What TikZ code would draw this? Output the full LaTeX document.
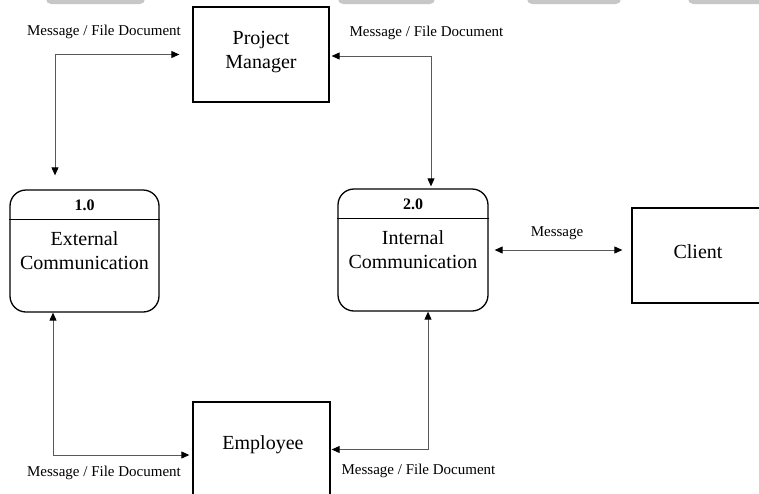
\documentclass[tikz,border=0pt]{standalone}
\usepackage{fontspec}
\setmainfont{Liberation Serif}
\usetikzlibrary{arrows.meta}
\begin{document}
\begin{tikzpicture}[x=1pt,y=-1pt,
  entity/.style={draw=black,line width=1.3pt,rectangle,inner sep=0pt},
  process/.style={draw=black,line width=1.3pt,rectangle,rounded corners=16pt,inner sep=0pt},
  bodytext/.style={font=\fontsize{20}{24}\selectfont,align=center,inner sep=0pt},
  idtext/.style={font=\fontsize{16}{18}\selectfont\bfseries,inner sep=0pt},
  flowlabel/.style={font=\fontsize{15}{17}\selectfont,inner sep=0pt},
  flow/.style={draw=black!65,line width=0.9pt,{Triangle[length=8pt,width=7pt,color=black]}-{Triangle[length=8pt,width=7pt,color=black]}}]
\useasboundingbox (0,0) rectangle (759,493);
\clip (0,0) rectangle (759,493);
\fill[white] (0,0) rectangle (759,493);

% toolbar shadows along the top edge
\foreach \a/\b in {46/145,338/435,527/621,688/790}
  \fill[black!22,rounded corners=5pt] (\a,-12) rectangle (\b,4);

% external entities
\node[entity,minimum width=136pt,minimum height=95pt] (pm) at (261,54.5) {};
\node[bodytext] at (261,52) {Project\\Manager};
\node[entity,minimum width=137pt,minimum height=95pt] (emp) at (261.5,449.5) {};
\node[bodytext] at (263,445) {Employee};
\node[entity,minimum width=130pt,minimum height=95pt] (cl) at (697,255.5) {};
\node[bodytext] at (698,252) {Client};

% processes
\node[process,minimum width=149pt,minimum height=122pt] (p1) at (84.5,251) {};
\draw[line width=0.6pt] (p1.west |- 0,219) -- (p1.east |- 0,219);
\node[idtext] at (84.5,205) {1.0};
\node[bodytext] at (84.5,251) {External\\Communication};

\node[process,minimum width=150pt,minimum height=122pt] (p2) at (413,250) {};
\draw[line width=0.6pt] (p2.west |- 0,218) -- (p2.east |- 0,218);
\node[idtext] at (413,204) {2.0};
\node[bodytext] at (413,250) {Internal\\Communication};

% data flows (shifts are in page units: positive yshift is upwards)
\draw[flow] ([xshift=-13pt]pm.west) -| ([xshift=-29.5pt,yshift=14pt]p1.north);
\draw[flow] ([xshift=2pt,yshift=-1.5pt]pm.east) -| ([xshift=18pt,yshift=2pt]p2.north);
\draw[flow] ([xshift=6pt]p2.east) -- ([xshift=-9pt]cl.west |- p2.east);
\draw[flow] ([xshift=-31.5pt]p1.south) |- ([xshift=-3pt,yshift=-5.5pt]emp.west);
\draw[flow] ([xshift=1pt]emp.east) -| ([xshift=15pt]p2.south);

% flow labels
\node[flowlabel] at (104,32) {Message / File Document};
\node[flowlabel] at (426.5,33) {Message / File Document};
\node[flowlabel] at (557,233) {Message};
\node[flowlabel] at (104,473) {Message / File Document};
\node[flowlabel] at (418.5,471) {Message / File Document};
\end{tikzpicture}
\end{document}
